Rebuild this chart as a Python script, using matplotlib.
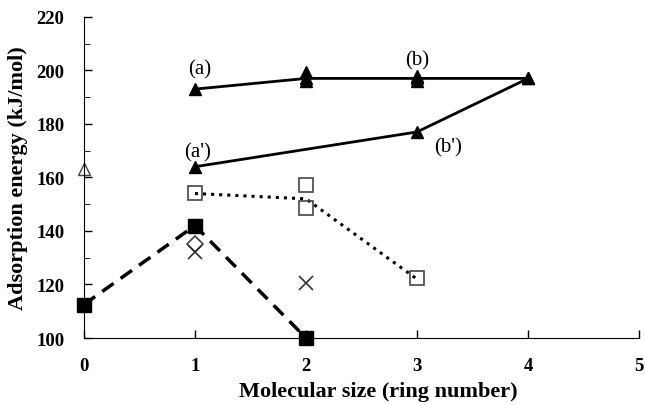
import matplotlib
matplotlib.use("Agg")
import matplotlib.pyplot as plt
from matplotlib.ticker import MultipleLocator

plt.rcParams["font.family"] = ["Liberation Serif", "DejaVu Serif"]

# (a) series and its duplicate points
a_x = [1, 2, 3, 4]
a_y = [193, 197, 197, 197]
a_extra_x = [2, 2, 3, 3]
a_extra_y = [199.5, 196, 198, 196]

# (a')-(b') series
b_x = [1, 3, 4]
b_y = [164, 177, 197]

# open triangle at zero rings
open_tri_x = [0]
open_tri_y = [163]

# dotted open squares
sq_line_x = [1, 2, 3]
sq_line_y = [154, 152, 122]
sq_x = [1, 2, 2, 3]
sq_y = [154, 157, 148.5, 122.5]

# dashed filled squares
fsq_x = [0, 1, 2]
fsq_y = [112.5, 142, 100]

# diamonds and crosses
dia_x = [1]
dia_y = [135]
cross_x = [1, 2]
cross_y = [132, 120.5]

labels = ["(a)", "(b)", "(a')", "(b')"]
label_x = [1.04, 3.0, 1.02, 3.28]
label_y = [200.5, 204, 169.5, 171.5]

fig = plt.figure(figsize=(6.45, 4.06), dpi=100)
ax = fig.add_axes([0.130, 0.165, 0.861, 0.791])

ax.plot(a_x, a_y, "-", color="black", lw=2)
ax.plot(a_x, a_y, "^", color="black", ms=8.5, ls="none")
ax.plot(a_extra_x, a_extra_y, "^", color="black", ms=8.5, ls="none")
ax.plot(b_x, b_y, "^-", color="black", lw=2, ms=8.5)
ax.plot(open_tri_x, open_tri_y, "^", mfc="white", mec="#444444", ms=9,
        clip_on=False)

ax.plot(sq_line_x, sq_line_y, ":", color="black", lw=2.2)
ax.plot(sq_x, sq_y, "s", mfc="none", mec="#444444", ms=10, mew=1.2)

ax.plot(fsq_x, fsq_y, "--", color="black", lw=2.5, dashes=(4, 2.5))
ax.plot(fsq_x, fsq_y, "s", color="black", ms=10, ls="none", clip_on=False)

ax.plot(dia_x, dia_y, "D", mfc="white", mec="#444444", ms=8, mew=1.2)
ax.plot(cross_x, cross_y, "x", color="#333333", ms=10, mew=1.2)

for txt, tx, ty in zip(labels, label_x, label_y):
    ax.text(tx, ty, txt, ha="center", va="center", fontsize=15)

ax.set_xlim(0, 5)
ax.set_ylim(100, 220)
ax.xaxis.set_major_locator(MultipleLocator(1))
ax.yaxis.set_major_locator(MultipleLocator(20))
ax.yaxis.set_minor_locator(MultipleLocator(10))
ax.tick_params(direction="in", length=6, width=1, labelsize=13.5)
ax.tick_params(axis="x", pad=14)
ax.tick_params(axis="y", pad=14)
ax.tick_params(axis="y", which="minor", direction="in", length=4)
for lbl in ax.get_xticklabels() + ax.get_yticklabels():
    lbl.set_fontweight("bold")
ax.spines["top"].set_visible(False)
ax.spines["right"].set_visible(False)
ax.set_xlabel("Molecular size (ring number)", fontsize=16, fontweight="bold")
ax.xaxis.set_label_coords(0.53, -0.135)
ax.set_ylabel("Adsorption energy (kJ/mol)", fontsize=16, fontweight="bold",
              labelpad=6)

fig.savefig("out.png", dpi=100)
